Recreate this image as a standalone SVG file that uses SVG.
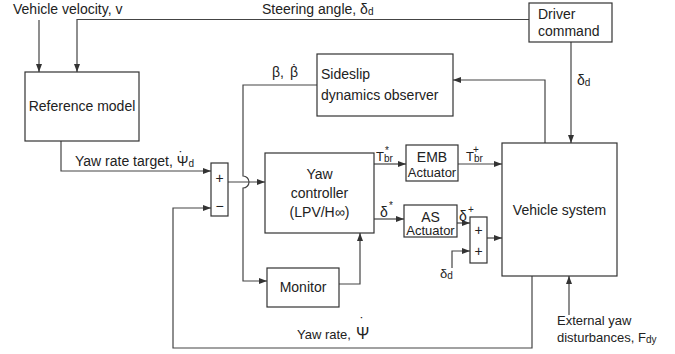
<svg xmlns="http://www.w3.org/2000/svg" width="675" height="354" viewBox="0 0 675 354">
<style>
text{font-family:"Liberation Sans","DejaVu Sans",sans-serif;fill:#222;font-size:14px}
.s{font-size:10px}
.sm{font-size:13px}
.box{fill:#fff;stroke:#333;stroke-width:1.2}
.ln{fill:none;stroke:#444;stroke-width:1.2}
</style>
<defs>
<marker id="a" viewBox="0 0 8 6" refX="8" refY="3" markerWidth="8" markerHeight="6" markerUnits="userSpaceOnUse" orient="auto">
<path d="M0,0 L8,3 L0,6 Z" fill="#333"/>
</marker>
</defs>
<rect width="675" height="354" fill="#fff"/>

<g id="connectors">
<path class="ln" d="M39,20 V72" marker-end="url(#a)"/>
<path class="ln" d="M529,19.5 H77 V72" marker-end="url(#a)"/>
<path class="ln" d="M571,42 V143" marker-end="url(#a)"/>
<path class="ln" d="M545,143 V80 H453" marker-end="url(#a)"/>
<path class="ln" d="M317,85 H243 V176 A6,6 0 0 1 243,188 V281 H267" marker-end="url(#a)"/>
<path class="ln" d="M61,141 V171 H211" marker-end="url(#a)"/>
<path class="ln" d="M228,182 H265" marker-end="url(#a)"/>
<path class="ln" d="M532,276 V348 H173 V208 H211" marker-end="url(#a)"/>
<path class="ln" d="M339,284 H360 V233" marker-end="url(#a)"/>
<path class="ln" d="M374,164 H406" marker-end="url(#a)"/>
<path class="ln" d="M458,164 H502" marker-end="url(#a)"/>
<path class="ln" d="M374,219 H404" marker-end="url(#a)"/>
<path class="ln" d="M457,223 H470" marker-end="url(#a)"/>
<path class="ln" d="M452,268 V251 H470" marker-end="url(#a)"/>
<path class="ln" d="M487,238 H502" marker-end="url(#a)"/>
<path class="ln" d="M569,315 V276" marker-end="url(#a)"/>
</g>

<g id="labels">
<text x="13" y="14">Vehicle velocity, v</text>
<text x="262" y="14">Steering angle, δ<tspan class="s" dy="1">d</tspan></text>
<text x="577" y="85">δ<tspan class="s" dy="1">d</tspan></text>
<text x="272" y="77">β,</text>
<text x="290" y="77">β</text>
<text x="294.5" y="75" text-anchor="middle">˙</text>
<text x="75" y="166">Yaw rate target, Ψ<tspan class="s" dy="1">d</tspan></text>
<text x="181" y="162" text-anchor="middle">˙</text>
<text x="376" y="161" class="sm">T<tspan class="s" dy="1">br</tspan></text>
<text x="385" y="154" class="s">*</text>
<text x="466" y="161" class="sm">T<tspan class="s" dy="1">br</tspan></text>
<text x="473" y="153" class="s">+</text>
<text x="380" y="217">δ</text>
<text x="389" y="209" class="s">*</text>
<text x="459" y="221">δ</text>
<text x="468" y="213" class="s">+</text>
<text x="440" y="278" class="sm">δ<tspan class="s" dy="1">d</tspan></text>
<text x="557" y="325" class="sm">External yaw</text>
<text x="557" y="342" class="sm">disturbances, F<tspan class="s" dy="1">dy</tspan></text>
<text x="297" y="339" class="sm">Yaw rate,</text>
<text x="356" y="339" style="font-size:16px">Ψ</text>
<text x="362" y="328" text-anchor="middle">˙</text>
</g>

<g id="ref-model">
<rect class="box" x="25" y="72" width="114" height="69"/>
<text x="82" y="111" text-anchor="middle">Reference model</text>
</g>
<g id="driver-command">
<rect class="box" x="529" y="3" width="83" height="39"/>
<text x="538" y="19">Driver</text>
<text x="538" y="36">command</text>
</g>
<g id="sideslip-observer">
<rect class="box" x="317" y="54" width="136" height="62"/>
<text x="321" y="79">Sideslip</text>
<text x="321" y="100">dynamics observer</text>
</g>
<g id="sum1">
<rect class="box" x="211" y="163" width="17" height="53"/>
<text x="219.5" y="183" text-anchor="middle">+</text>
<text x="219.5" y="211" text-anchor="middle">−</text>
</g>
<g id="yaw-controller">
<rect class="box" x="265" y="153" width="109" height="80"/>
<text x="319.5" y="179" text-anchor="middle">Yaw</text>
<text x="319.5" y="198" text-anchor="middle">controller</text>
<text x="319.5" y="217" text-anchor="middle">(LPV/H∞)</text>
</g>
<g id="emb-actuator">
<rect class="box" x="406" y="145" width="52" height="36"/>
<text x="432" y="162" text-anchor="middle">EMB</text>
<text x="432" y="177" text-anchor="middle" class="sm">Actuator</text>
</g>
<g id="as-actuator">
<rect class="box" x="404" y="205" width="53" height="32"/>
<text x="430.5" y="222" text-anchor="middle">AS</text>
<text x="430.5" y="235" text-anchor="middle" class="sm">Actuator</text>
</g>
<g id="sum2">
<rect class="box" x="470" y="217" width="17" height="46"/>
<text x="478.5" y="235" text-anchor="middle">+</text>
<text x="478.5" y="256" text-anchor="middle">+</text>
</g>
<g id="vehicle-system">
<rect class="box" x="502" y="143" width="115" height="133"/>
<text x="559.5" y="215" text-anchor="middle">Vehicle system</text>
</g>
<g id="monitor">
<rect class="box" x="267" y="268" width="72" height="39"/>
<text x="303" y="292" text-anchor="middle">Monitor</text>
</g>
</svg>
